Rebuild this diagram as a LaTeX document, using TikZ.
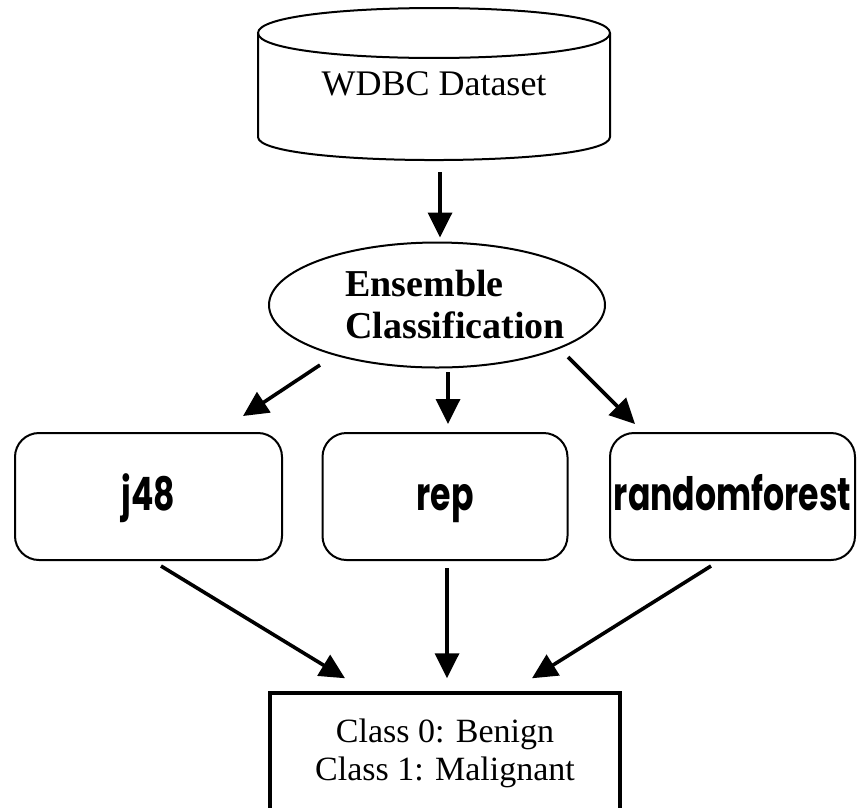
\documentclass[tikz,border=0pt]{standalone}
\usepackage{fontspec}
\setmainfont{Liberation Serif}
\newfontfamily\geofont[FakeStretch=0.72]{Poppins}
\usetikzlibrary{shapes.geometric,arrows.meta}

\begin{document}
\begin{tikzpicture}[x=1pt,y=-1pt,
  conn/.style={line width=3.6pt,-{Triangle[length=25pt,width=24pt]}},
  algo/.style={draw,line width=2pt,rounded corners=24pt,minimum width=245pt,
    minimum height=127pt,inner sep=0pt,text height=27pt,text depth=0pt,
    font=\geofont\bfseries\fontsize{46}{46}\selectfont},
  outline/.style={line width=2pt}]
\useasboundingbox (0,0) rectangle (862,807);
\fill[white] (0,0) rectangle (862,807);

% database cylinder
\draw[outline] (258,33) .. controls (258,-0.3) and (610,-0.3) .. (610,33)
  .. controls (610,66.3) and (258,66.3) .. (258,33) -- cycle;
\draw[outline] (258,33) -- (258,137) .. controls (258,167.7) and (610,167.7) .. (610,137) -- (610,33);
\node[minimum width=352pt,minimum height=152pt,inner sep=0pt,
  font=\fontsize{36}{36}\selectfont] (db) at (434,84) {WDBC Dataset};

% ensemble step
\node[draw,ellipse,outline,minimum width=336pt,minimum height=125pt,inner sep=0pt] (ens) at (437,305) {};
\node[font=\bfseries\fontsize{38}{42}\selectfont,align=left,inner sep=0pt] (enstxt) at (455,304) {Ensemble\\Classification};

% base classifiers
\node[algo,minimum width=267pt] (j48) at (148.5,496.5) {j48};
\node[algo] (rep) at (445,496.5) {rep};
\node[algo] (rf) at (732.5,496.5) {randomforest};

% output classes
\node[draw,line width=3.5pt,minimum width=350pt,minimum height=120pt,align=center,
  font=\fontsize{34}{38}\selectfont] (cls) at (445,753) {Class 0: Benign\\Class 1: Malignant};

% connectors
\draw[conn] ([xshift=6pt,yshift=-12pt]db.south) -- ([xshift=3pt,yshift=4pt]ens.north);
\draw[conn] ([xshift=-117pt,yshift=-60pt]ens.center) -- ([xshift=94.5pt,yshift=16pt]j48.north);
\draw[conn] ([xshift=11pt,yshift=-67pt]ens.center) -- ([xshift=3pt,yshift=8pt]rep.north);
\draw[conn] ([xshift=131pt,yshift=-52pt]ens.center) -- ([xshift=-97.5pt,yshift=8pt]rf.north);
\draw[conn] ([xshift=12.5pt,yshift=-5pt]j48.south) -- ([xshift=-100pt,yshift=13pt]cls.north);
\draw[conn] ([xshift=2pt,yshift=-7pt]rep.south) -- ([xshift=2pt,yshift=13pt]cls.north);
\draw[conn] ([xshift=-21.5pt,yshift=-5pt]rf.south) -- ([xshift=87pt,yshift=13pt]cls.north);
\end{tikzpicture}
\end{document}
